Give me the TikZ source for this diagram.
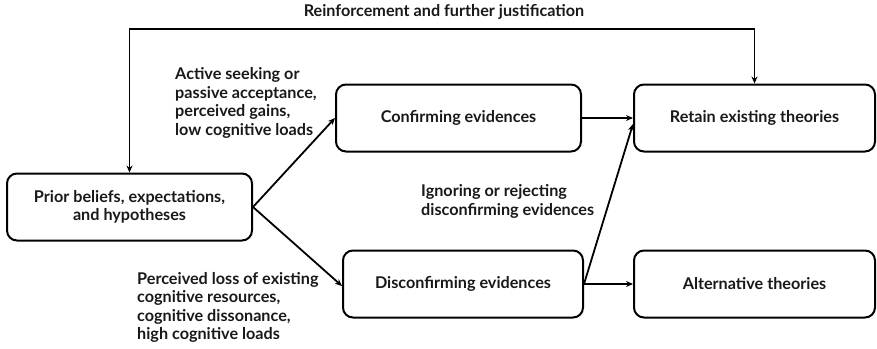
\documentclass[tikz,border=0pt]{standalone}
\usepackage{fontspec}
\setmainfont{Lato}[UprightFont=* Bold]
\usetikzlibrary{arrows.meta}
\begin{document}
\begin{tikzpicture}[x=1pt,y=-1pt,
  every node/.style={font=\fontsize{16.2}{18.6}\selectfont, text=black!90},
  stage/.style={draw, line width=2pt, rounded corners=10pt, minimum height=67pt,
    align=center, inner sep=0pt},
  lbl/.style={align=left, anchor=west, inner sep=0pt},
  flow/.style={line width=1.8pt, -{Stealth[length=7pt,width=6pt]}}]
\useasboundingbox (0,0) rectangle (877,348);

% stages of belief processing
\node[stage, minimum width=245pt] (prior) at (129.5,207) {Prior beliefs, expectations,\\and hypotheses};
\node[stage, minimum width=245pt] (conf) at (458.5,118) {Confirming evidences};
\node[stage, minimum width=241pt] (ret) at (754.5,118) {Retain existing theories};
\node[stage, minimum width=240pt] (disc) at (463,284) {Disconfirming evidences};
\node[stage, minimum width=241pt] (alt) at (754.5,284) {Alternative theories};

% feedback loop over the top
\coordinate (tl) at (prior.north |- 0,29);
\coordinate (tr) at (ret.north |- 0,29);
\node[inner sep=0pt] (reinf) at (444,12) {Reinforcement and further justification};
\draw[line width=1.8pt, {Stealth[length=7pt,width=6pt]}-{Stealth[length=7pt,width=6pt]}]
  (prior.north) -- (tl) -- (tr) -- (ret.north);

% conditions
\node[lbl] (seek) at (175,103) {Active seeking or\\passive acceptance,\\perceived gains,\\low cognitive loads};
\node[lbl] (ignore) at (421,201.5) {Ignoring or rejecting\\disconfirming evidences};
\node[lbl] (loss) at (137,307.5) {Perceived loss of existing\\cognitive resources,\\cognitive dissonance,\\high cognitive loads};

% transitions
\draw[flow] (prior.east) -- (conf.west);
\draw[flow] (prior.east) -- ([yshift=-2pt]disc.west);
\draw[flow] (conf.east) -- (ret.west);
\draw[flow] (disc.east) -- ([yshift=-6pt]ret.west);
\draw[flow] (disc.east) -- (alt.west);
\end{tikzpicture}
\end{document}
